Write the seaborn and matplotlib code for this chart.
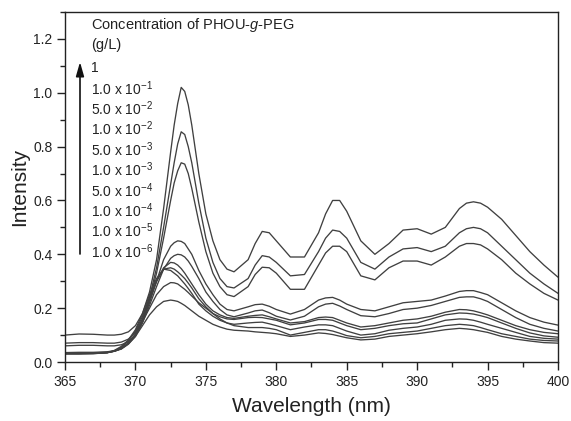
import matplotlib
matplotlib.use("Agg")
import matplotlib.pyplot as plt
from matplotlib.ticker import MultipleLocator
import pandas as pd
import seaborn as sns

# wavelength grid (nm), finer around the band maxima
wavelength = [365, 366, 367, 368, 368.5, 369, 369.5, 370, 370.5, 371, 371.5, 372, 372.5,
              372.75, 373, 373.25, 373.5, 373.75, 374, 374.5, 375, 375.5, 376, 376.5, 377,
              378, 378.5, 379, 379.5, 380, 381, 382, 383, 383.5, 384, 384.5, 385, 386, 387,
              388, 389, 390, 391, 392, 393, 393.5, 394, 394.5, 395, 396, 397, 398, 399, 400]

# intensity, one list per concentration (g/L)
i_1 = [.100, .104, .103, .100, .100, .103, .112, .135, .18, .26, .38, .57, .78,
       .88, .96, 1.02, 1.005, .955, .88, .70, .55, .45, .38, .345, .335,
       .38, .44, .485, .48, .45, .39, .39, .48, .55, .60, .60, .56, .45, .40,
       .44, .49, .495, .475, .50, .57, .59, .595, .59, .575, .53, .47, .41, .36, .315]
i_1e_1 = [.070, .072, .072, .070, .070, .074, .085, .11, .16, .24, .35, .50, .66,
          .74, .81, .855, .845, .80, .74, .59, .46, .37, .31, .28, .275,
          .31, .36, .395, .39, .37, .32, .325, .41, .46, .49, .485, .46, .37, .345,
          .39, .42, .425, .41, .43, .48, .495, .50, .495, .48, .43, .38, .33, .29, .255]
i_5e_2 = [.060, .062, .062, .060, .060, .064, .075, .10, .15, .23, .33, .46, .60,
          .665, .71, .74, .735, .70, .645, .52, .41, .33, .28, .25, .243,
          .28, .325, .352, .35, .33, .27, .27, .36, .405, .43, .43, .41, .32, .305,
          .35, .375, .375, .36, .39, .43, .44, .44, .435, .42, .38, .33, .29, .255, .23]
i_1e_2 = [.035, .036, .036, .038, .042, .050, .070, .10, .15, .22, .30, .38, .43,
          .443, .45, .448, .44, .42, .40, .34, .29, .25, .215, .195, .19,
          .205, .213, .215, .207, .195, .178, .195, .23, .238, .24, .23, .215, .195, .19,
          .205, .22, .225, .23, .245, .262, .265, .265, .258, .25, .22, .19, .165, .148, .137]
i_5e_3 = [.033, .034, .034, .036, .040, .048, .066, .095, .145, .21, .28, .345, .385,
          .395, .40, .398, .39, .375, .355, .31, .26, .225, .195, .175, .168,
          .182, .19, .193, .183, .17, .156, .17, .205, .215, .218, .208, .195, .172, .168,
          .18, .195, .20, .21, .225, .24, .242, .242, .235, .225, .195, .165, .14, .125, .115]
i_1e_3 = [.032, .032, .033, .035, .040, .050, .070, .105, .16, .23, .30, .35, .37,
          .368, .36, .347, .33, .31, .29, .25, .215, .19, .175, .165, .162,
          .17, .173, .175, .168, .16, .145, .15, .165, .167, .165, .155, .145, .13, .135,
          .145, .155, .16, .17, .185, .195, .194, .19, .183, .175, .155, .135, .12, .11, .105]
i_5e_4 = [.030, .030, .031, .034, .041, .055, .078, .115, .17, .24, .30, .345, .35,
          .345, .335, .323, .31, .293, .275, .235, .205, .18, .168, .16, .158,
          .165, .166, .165, .16, .155, .138, .145, .158, .158, .155, .145, .135, .12, .125,
          .135, .142, .145, .16, .175, .182, .181, .178, .172, .165, .145, .125, .108, .097, .092]
i_1e_4 = [.030, .030, .031, .035, .043, .058, .082, .12, .18, .25, .31, .345, .34,
          .33, .32, .305, .29, .273, .255, .215, .19, .17, .155, .145, .14,
          .145, .147, .148, .142, .135, .12, .13, .138, .138, .135, .125, .115, .10, .105,
          .118, .125, .13, .14, .155, .16, .159, .155, .148, .14, .125, .11, .095, .088, .085]
i_1e_5 = [.032, .032, .033, .035, .040, .050, .070, .10, .15, .20, .25, .28, .295,
          .294, .29, .28, .27, .258, .245, .22, .20, .18, .16, .145, .135,
          .128, .128, .128, .125, .12, .10, .11, .12, .12, .115, .107, .098, .09, .095,
          .105, .11, .115, .125, .135, .14, .138, .135, .128, .12, .105, .095, .085, .08, .078]
i_1e_6 = [.032, .032, .033, .035, .040, .050, .068, .095, .135, .175, .205, .225, .23,
          .228, .225, .218, .21, .20, .19, .17, .155, .14, .13, .122, .118,
          .115, .112, .11, .108, .105, .095, .10, .108, .106, .102, .096, .09, .082, .085,
          .095, .10, .105, .112, .12, .125, .123, .12, .115, .11, .095, .085, .078, .072, .07]

series = [i_1, i_1e_1, i_5e_2, i_1e_2, i_5e_3, i_1e_3, i_5e_4, i_1e_4, i_1e_5, i_1e_6]
conc_labels = ["1",
               r"1.0 x 10$^{-1}$", r"5.0 x 10$^{-2}$", r"1.0 x 10$^{-2}$",
               r"5.0 x 10$^{-3}$", r"1.0 x 10$^{-3}$", r"5.0 x 10$^{-4}$",
               r"1.0 x 10$^{-4}$", r"1.0 x 10$^{-5}$", r"1.0 x 10$^{-6}$"]

df = pd.concat(
    [pd.DataFrame({"wavelength": wavelength, "intensity": s, "conc": c})
     for s, c in zip(series, conc_labels)],
    ignore_index=True,
)

sns.set_theme(style="ticks")
plt.rcParams["font.family"] = ["Liberation Sans", "DejaVu Sans"]
plt.rcParams["mathtext.fontset"] = "custom"
plt.rcParams["mathtext.rm"] = "Liberation Sans"
plt.rcParams["mathtext.it"] = "Liberation Sans:italic"
plt.rcParams["axes.linewidth"] = 1.0

fig = plt.figure(figsize=(5.71, 4.21), dpi=100)
ax = fig.add_axes([65 / 571, 1 - 362 / 421, (558 - 65) / 571, (362 - 12) / 421])

sns.lineplot(data=df, x="wavelength", y="intensity", hue="conc",
             palette=["#404040"] * len(conc_labels), estimator=None, sort=False,
             linewidth=0.95, legend=False, ax=ax)

ax.set_xlim(365, 400)
ax.set_ylim(0, 1.3)
ax.xaxis.set_major_locator(MultipleLocator(5))
ax.xaxis.set_minor_locator(MultipleLocator(2.5))
ax.yaxis.set_major_locator(MultipleLocator(0.2))
ax.yaxis.set_minor_locator(MultipleLocator(0.1))
ax.tick_params(which="major", direction="out", length=6, width=1, labelsize=10,
               colors="#222222", pad=3)
ax.tick_params(which="minor", direction="out", length=3.5, width=1, colors="#222222")
ax.set_xlabel("Wavelength (nm)", fontsize=15, color="#222222", labelpad=6)
ax.set_ylabel("Intensity", fontsize=15, color="#222222", labelpad=3)
for sp in ax.spines.values():
    sp.set_visible(True)
    sp.set_color("#222222")


# legend-like annotation block, placed in reference pixel coordinates
def to_ax(px, py):
    return (px - 65) / (558 - 65), (362 - py) / (362 - 12)


tx, ty = to_ax(91, 25)
ax.text(tx, ty, r"Concentration of PHOU-$\it{g}$-PEG", transform=ax.transAxes,
        fontsize=10.5, va="center", ha="left", color="#222222")
tx, ty = to_ax(91, 45)
ax.text(tx, ty, "(g/L)", transform=ax.transAxes, fontsize=10.5, va="center",
        ha="left", color="#222222")
for i, lab in enumerate(conc_labels):
    tx, ty = to_ax(91, 68 + 20.4 * i)
    ax.text(tx, ty, lab, transform=ax.transAxes, fontsize=10, va="center",
            ha="left", color="#222222")

x0, y0 = to_ax(80, 254)
x1, y1 = to_ax(80, 62)
ax.annotate("", xy=(x1, y1), xytext=(x0, y0), xycoords="axes fraction",
            arrowprops=dict(arrowstyle="-|>,head_length=0.7,head_width=0.2",
                            color="#111111", lw=1.2, shrinkA=0, shrinkB=0))

fig.savefig("out.png", dpi=100)
